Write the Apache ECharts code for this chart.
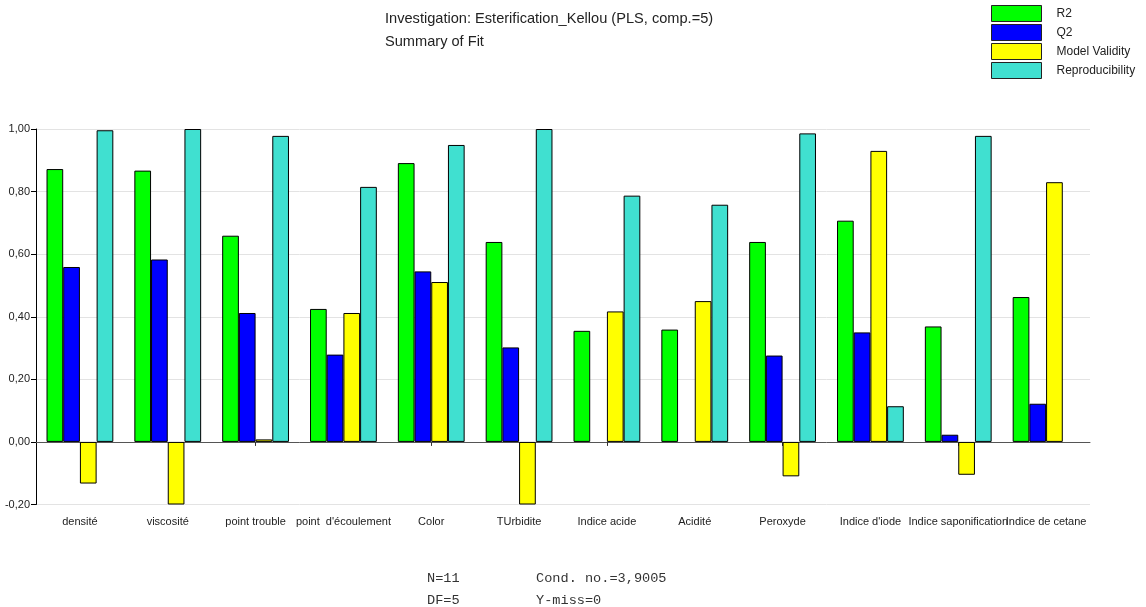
<!DOCTYPE html>
<html>
<head>
<meta charset="utf-8">
<script src="https://cdn.jsdelivr.net/npm/echarts@6/dist/echarts.min.js"></script>
<style>
  html, body { margin: 0; padding: 0; background: #fff; }
  #chart { width: 1146px; height: 607px; }
</style>
</head>
<body>
<div id="chart"></div>
<script>
// categories and values
var categories = ["densité", "viscosité", "point trouble", "point  d'écoulement", "Color", "TUrbidite",
  "Indice acide", "Acidité", "Peroxyde", "Indice d'iode", "Indice saponification", "Indice de cetane"];
var r2 = [0.872, 0.867, 0.659, 0.425, 0.891, 0.639, 0.355, 0.359, 0.639, 0.707, 0.369, 0.463];
var q2 = [0.559, 0.583, 0.412, 0.279, 0.545, 0.302, null, null, 0.276, 0.350, 0.023, 0.122];
var validity = [-0.133, -0.200, 0.008, 0.412, 0.511, -0.200, 0.417, 0.450, -0.110, 0.930, -0.105, 0.830];
var reproducibility = [0.996, 1.000, 0.978, 0.815, 0.949, 1.000, 0.787, 0.758, 0.986, 0.114, 0.978, null];
var yTicks = [-0.2, 0, 0.2, 0.4, 0.6, 0.8, 1.0];

var font = "Liberation Sans";

function makeBar(name, data, color) {
  return {
    name: name,
    type: "bar",
    data: data,
    barWidth: 16.7,
    barGap: "0%",
    itemStyle: { color: color, borderColor: "#000", borderWidth: 1 },
    emphasis: { disabled: true }
  };
}

var chart = echarts.init(document.getElementById("chart"));
var option = {
  animation: false,
  textStyle: { fontFamily: font },
  title: {
    text: "Investigation: Esterification_Kellou (PLS, comp.=5)",
    subtext: "Summary of Fit",
    left: 380,
    top: 6,
    itemGap: 8,
    textStyle: { fontFamily: font, fontSize: 14.6, fontWeight: "normal", color: "#222" },
    subtextStyle: { fontFamily: font, fontSize: 14.6, color: "#222" }
  },
  legend: {
    orient: "vertical",
    left: 986,
    top: 0,
    itemWidth: 50,
    itemHeight: 16,
    itemGap: 2,
    icon: "rect",
    itemStyle: { borderWidth: 1, borderColor: "#222" },
    textStyle: { fontFamily: font, fontSize: 12, color: "#222", padding: [0, 0, 0, 10] },
    data: ["R2", "Q2", "Model Validity", "Reproducibility"]
  },
  grid: { left: 36, right: 56, top: 129, bottom: 102.5, containLabel: false },
  xAxis: [
    {
      type: "category",
      data: categories,
      axisLine: { show: false, onZero: false },
      axisTick: { show: false },
      axisLabel: { interval: 0, fontSize: 11, color: "#222", margin: 12, fontFamily: font },
      splitLine: { show: false }
    },
    {
      type: "category",
      data: categories,
      position: "bottom",
      axisLine: { show: true, onZero: true, lineStyle: { color: "#555", width: 1 } },
      axisTick: { show: true, alignWithLabel: true, length: 4, lineStyle: { color: "#333" } },
      axisLabel: { show: false }
    }
  ],
  yAxis: {
    type: "value",
    min: yTicks[0],
    max: yTicks[yTicks.length - 1],
    interval: 0.2,
    axisLine: { show: true, lineStyle: { color: "#000" } },
    axisTick: { show: true, length: 5, lineStyle: { color: "#000" } },
    axisLabel: {
      fontSize: 11,
      color: "#222",
      margin: 6,
      formatter: function (val) {
        return val.toFixed(2).replace(".", ",");
      }
    },
    splitLine: { show: true, lineStyle: { color: "#e3e3e3" } }
  },
  series: [
    makeBar("R2", r2, "#00ff00"),
    makeBar("Q2", q2, "#0000ff"),
    makeBar("Model Validity", validity, "#ffff00"),
    makeBar("Reproducibility", reproducibility, "#40e0d0")
  ],
  graphic: [
    { type: "text", left: 427, top: 571, style: { text: "N=11", font: "13.6px 'Liberation Mono'", fill: "#333" } },
    { type: "text", left: 536, top: 571, style: { text: "Cond. no.=3,9005", font: "13.6px 'Liberation Mono'", fill: "#333" } },
    { type: "text", left: 427, top: 593, style: { text: "DF=5", font: "13.6px 'Liberation Mono'", fill: "#333" } },
    { type: "text", left: 536, top: 593, style: { text: "Y-miss=0", font: "13.6px 'Liberation Mono'", fill: "#333" } }
  ]
};

chart.setOption(option);
</script>
</body>
</html>
